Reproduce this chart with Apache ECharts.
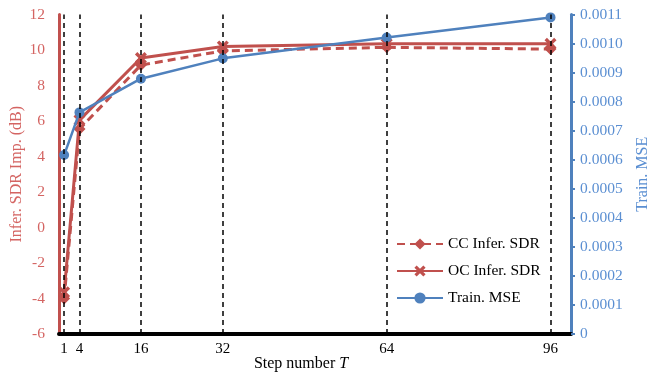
<!DOCTYPE html>
<html>
<head>
<meta charset="utf-8">
<script src="https://cdn.jsdelivr.net/npm/echarts@6/dist/echarts.min.js"></script>
<style>
  html, body { margin: 0; padding: 0; background: #fff; }
  #chart { width: 649px; height: 375px; }
</style>
</head>
<body>
<div id="chart"></div>
<script>
const steps = [1, 4, 16, 32, 64, 96];
const ccSdr = [-4.0, 5.55, 9.15, 9.95, 10.15, 10.05];
const ocSdr = [-3.65, 6.05, 9.55, 10.2, 10.35, 10.35];
const trainMse = [0.000616, 0.000763, 0.000879, 0.000949, 0.001021, 0.00109];

const RED = '#c0504d';
const BLUE = '#4f81bd';
const FONT = 'Liberation Serif';
// thick X marker
const crossPath = 'path://M2,0 L5,3 L8,0 L10,2 L7,5 L10,8 L8,10 L5,7 L2,10 L0,8 L3,5 L0,2Z';

const pairs = (ys) => steps.map((x, i) => [x, ys[i]]);

const chart = echarts.init(document.getElementById('chart'));
chart.setOption({
  animation: false,
  textStyle: { fontFamily: FONT },
  grid: { left: 59, right: 78, top: 14.5, bottom: 41, outerBoundsMode: 'none', containLabel: false },
  legend: {
    left: 391, top: 231, orient: 'vertical', itemGap: 11,
    itemWidth: 46, itemHeight: 14,
    textStyle: { fontFamily: FONT, fontSize: 15.5, color: '#000' },
    data: ['CC Infer. SDR', 'OC Infer. SDR', 'Train. MSE']
  },
  xAxis: {
    type: 'value', min: 0, max: 100,
    name: '{a|Step number }{b|T}',
    nameLocation: 'middle', nameGap: 22, nameMoveOverlap: false,
    nameTextStyle: {
      padding: [0, 28, 0, 0],
      rich: {
        a: { fontFamily: FONT, fontSize: 16, color: '#000' },
        b: { fontFamily: FONT, fontSize: 16, color: '#000', fontStyle: 'italic' }
      }
    },
    axisLine: { onZero: false, lineStyle: { color: '#000', width: 4 } },
    axisTick: { show: false },
    splitLine: { show: false },
    axisLabel: { customValues: steps, color: '#000', fontSize: 15, fontFamily: FONT, margin: 8 }
  },
  yAxis: [{
    type: 'value', min: -6, max: 12, interval: 2, position: 'left',
    name: 'Infer. SDR Imp. (dB)', nameLocation: 'middle', nameGap: 34, nameMoveOverlap: false,
    nameTextStyle: { color: '#d46462', fontSize: 16, fontFamily: FONT },
    axisLine: { show: true, lineStyle: { color: RED, width: 3 } },
    axisTick: { show: false },
    splitLine: { show: false },
    axisLabel: { color: '#d46462', fontSize: 15.5, fontFamily: FONT, margin: 14 }
  }, {
    type: 'value', min: 0, max: 0.0011, interval: 0.0001, position: 'right',
    name: 'Train. MSE', nameLocation: 'middle', nameGap: 64, nameMoveOverlap: false,
    nameTextStyle: { color: '#5b8fd2', fontSize: 16, fontFamily: FONT },
    axisLine: { show: true, lineStyle: { color: BLUE, width: 3 } },
    axisTick: { show: true, length: 4, lineStyle: { color: BLUE, width: 2 } },
    splitLine: { show: false },
    axisLabel: {
      color: '#5b8fd2', fontSize: 15.5, fontFamily: FONT, margin: 9,
      formatter: (v) => (v === 0 ? '0' : v.toFixed(4))
    }
  }],
  series: [{
    name: 'guides', type: 'line', data: [], z: 1, silent: true,
    markLine: {
      symbol: 'none', silent: true, label: { show: false },
      lineStyle: { color: '#000', type: [5, 4], width: 1.5 },
      data: steps.map((x) => ({ xAxis: x }))
    }
  }, {
    name: 'CC Infer. SDR', type: 'line', yAxisIndex: 0, z: 3,
    data: pairs(ccSdr),
    symbol: 'diamond', symbolSize: 12,
    lineStyle: { color: RED, width: 3, type: [8, 5] },
    itemStyle: { color: RED }
  }, {
    name: 'OC Infer. SDR', type: 'line', yAxisIndex: 0, z: 3,
    data: pairs(ocSdr),
    symbol: crossPath, symbolSize: 12,
    lineStyle: { color: RED, width: 3 },
    itemStyle: { color: RED }
  }, {
    name: 'Train. MSE', type: 'line', yAxisIndex: 1, z: 4,
    data: pairs(trainMse),
    symbol: 'circle', symbolSize: 10,
    lineStyle: { color: BLUE, width: 2.5 },
    itemStyle: { color: BLUE }
  }]
});
</script>
</body>
</html>
